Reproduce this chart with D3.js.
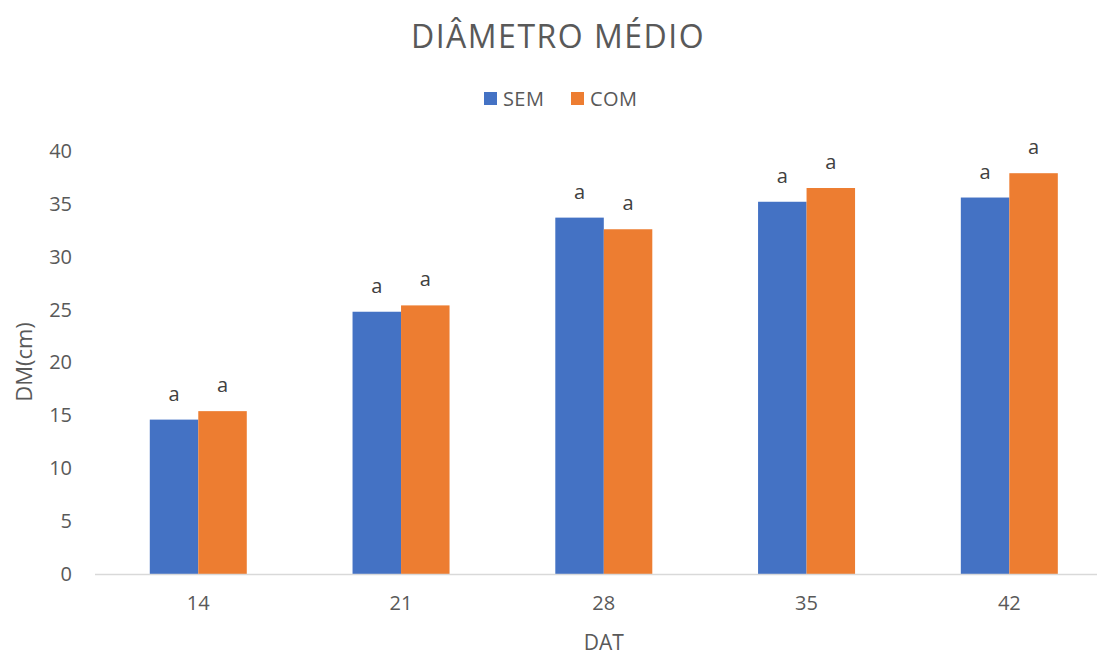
<!DOCTYPE html>
<html>
<head>
<meta charset="utf-8">
<script src="https://cdn.jsdelivr.net/npm/d3@7"></script>
<style>
  html, body { margin: 0; padding: 0; background: #fff; }
  svg { display: block; }
  text { font-family: "Open Sans", "Noto Sans", sans-serif; }
</style>
</head>
<body>
<svg id="chart" width="1097" height="655"></svg>
<script>
// Days after transplanting (DAT)
const categories = ["14", "21", "28", "35", "42"];
const seriesNames = ["SEM", "COM"];
// Mean diameter (cm)
const semValues = [14.6, 24.8, 33.7, 35.2, 35.6];
const comValues = [15.4, 25.4, 32.6, 36.5, 37.9];
// Significance letters above each bar
const semLetters = ["a", "a", "a", "a", "a"];
const comLetters = ["a", "a", "a", "a", "a"];
const yTicks = [0, 5, 10, 15, 20, 25, 30, 35, 40];

const colors = { SEM: "#4472C4", COM: "#ED7D31" };

const svg = d3.select("#chart");
const margin = { left: 96.9, right: 1110.7, top: 151, bottom: 574 };

const x = d3.scaleBand()
  .domain(categories)
  .range([margin.left, margin.right])
  .paddingInner(0.5216)
  .paddingOuter(0.2608);

const xSub = d3.scaleBand()
  .domain(seriesNames)
  .range([0, x.bandwidth()]);

const y = d3.scaleLinear().domain([0, 40]).range([margin.bottom, margin.top]);

const rows = categories.map((c, i) => ({
  cat: c,
  values: [
    { key: "SEM", value: semValues[i], letter: semLetters[i] },
    { key: "COM", value: comValues[i], letter: comLetters[i] }
  ]
}));

// Title
svg.append("text")
  .attr("x", 558)
  .attr("y", 48)
  .attr("text-anchor", "middle")
  .attr("font-size", 32)
  .attr("letter-spacing", 1.5)
  .attr("fill", "#595959")
  .text("DIÂMETRO MÉDIO");

// Legend
const legend = svg.append("g");
const legendItems = [{ key: "SEM", x: 484 }, { key: "COM", x: 571 }];
legendItems.forEach(it => {
  legend.append("rect")
    .attr("x", it.x).attr("y", 92)
    .attr("width", 13).attr("height", 13)
    .attr("fill", colors[it.key]);
  legend.append("text")
    .attr("x", it.x + 19).attr("y", 106)
    .attr("font-size", 20)
    .attr("letter-spacing", 0.4)
    .attr("fill", "#595959")
    .text(it.key);
});

// Y axis (labels only)
const yAxis = svg.append("g")
  .attr("transform", "translate(72,0)")
  .call(d3.axisLeft(y).tickValues(yTicks).tickSize(0).tickPadding(0));
yAxis.select(".domain").remove();
yAxis.selectAll("text")
  .attr("font-size", 20)
  .attr("fill", "#595959")
  .style("font-family", '"Open Sans", "Noto Sans", sans-serif');

// Bars
const groups = svg.append("g").selectAll("g")
  .data(rows)
  .join("g")
  .attr("transform", d => `translate(${x(d.cat)},0)`);

groups.selectAll("rect")
  .data(d => d.values)
  .join("rect")
  .attr("x", d => xSub(d.key))
  .attr("y", d => y(d.value))
  .attr("width", xSub.bandwidth())
  .attr("height", d => y(0) - y(d.value))
  .attr("fill", d => colors[d.key]);

groups.selectAll("text.letter")
  .data(d => d.values)
  .join("text")
  .attr("class", "letter")
  .attr("x", d => xSub(d.key) + xSub.bandwidth() / 2)
  .attr("y", d => y(d.value) - 19)
  .attr("text-anchor", "middle")
  .attr("font-size", 20)
  .attr("fill", "#404040")
  .text(d => d.letter);

// X axis
const xAxis = svg.append("g")
  .attr("transform", `translate(0,${margin.bottom})`)
  .call(d3.axisBottom(x).tickSize(0).tickPadding(22));
xAxis.select(".domain")
  .attr("d", `M95,0.5H1097`)
  .attr("stroke", "#d9d9d9")
  .attr("stroke-width", 1.5);
xAxis.selectAll("text")
  .attr("font-size", 20)
  .attr("fill", "#595959")
  .style("font-family", '"Open Sans", "Noto Sans", sans-serif');

// Axis titles
svg.append("text")
  .attr("x", (margin.left + margin.right) / 2)
  .attr("y", 649.5)
  .attr("text-anchor", "middle")
  .attr("font-size", 21)
  .attr("fill", "#595959")
  .text("DAT");

svg.append("text")
  .attr("transform", "translate(32,362) rotate(-90)")
  .attr("text-anchor", "middle")
  .attr("font-size", 22)
  .attr("fill", "#595959")
  .text("DM(cm)");
</script>
</body>
</html>
